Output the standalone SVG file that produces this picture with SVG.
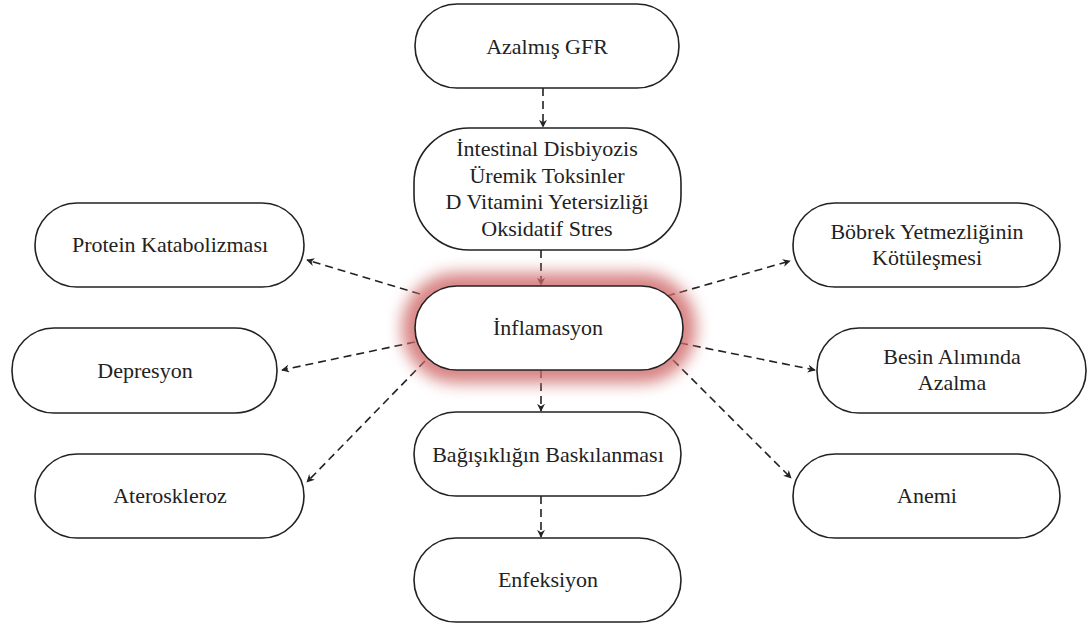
<svg xmlns="http://www.w3.org/2000/svg" width="1091" height="628" viewBox="0 0 1091 628">
<style>
.box{fill:#fff;stroke:#222;stroke-width:1.6}
.t{font-family:'Liberation Serif','Times New Roman',serif;font-size:22px;fill:#222;text-anchor:middle}
.c{fill:none;stroke:#222;stroke-width:1.6;stroke-dasharray:8 5;marker-end:url(#ah)}
</style>
<defs>
<marker id="ah" viewBox="0 0 10 10" refX="9" refY="5" markerWidth="8" markerHeight="8" markerUnits="userSpaceOnUse" orient="auto">
<path d="M0,0 L10,5 L0,10 L3,5 Z" fill="#222"/>
</marker>
<filter id="glow" x="-30%" y="-80%" width="160%" height="260%">
<feGaussianBlur stdDeviation="8"/>
</filter>
</defs>
<rect width="1091" height="628" fill="#fff"/>
<g id="connectors">
<line class="c" x1="543" y1="88" x2="543" y2="127"/>
<line class="c" x1="541" y1="250" x2="541" y2="285"/>
<line class="c" x1="541" y1="370" x2="541" y2="411"/>
<line class="c" x1="541" y1="496" x2="541" y2="537"/>
<line class="c" x1="420" y1="294" x2="307" y2="260"/>
<line class="c" x1="415" y1="342" x2="282" y2="370"/>
<line class="c" x1="425" y1="361" x2="307" y2="482"/>
<line class="c" x1="667" y1="296" x2="790" y2="261"/>
<line class="c" x1="680" y1="343" x2="815" y2="370"/>
<line class="c" x1="673" y1="360" x2="791" y2="478"/>
</g>
<g id="n-gfr"><rect class="box" x="415" y="4" width="264" height="84" rx="42"/><text class="t" x="547" y="54">Azalmış GFR</text></g>
<g id="n-causes"><rect class="box" x="414" y="128" width="267" height="122" rx="55"/>
<text class="t" x="547" y="156">İntestinal Disbiyozis</text>
<text class="t" x="547" y="183">Üremik Toksinler</text>
<text class="t" x="547" y="209">D Vitamini Yetersizliği</text>
<text class="t" x="547" y="236">Oksidatif Stres</text></g>
<g id="n-inflamasyon">
<rect x="415" y="286" width="268" height="84" rx="42" fill="none" stroke="#d06a6a" stroke-width="26" filter="url(#glow)" opacity="0.85"/>
<rect class="box" x="415" y="286" width="268" height="84" rx="42"/><text class="t" x="548" y="335">İnflamasyon</text></g>
<g id="n-bagisiklik"><rect class="box" x="414" y="412" width="267" height="84" rx="42"/><text class="t" x="548" y="462">Bağışıklığın Baskılanması</text></g>
<g id="n-enfeksiyon"><rect class="box" x="414" y="538" width="267" height="84" rx="42"/><text class="t" x="548" y="587">Enfeksiyon</text></g>
<g id="n-protein"><rect class="box" x="35" y="203" width="269" height="84" rx="42"/><text class="t" x="170" y="252">Protein Katabolizması</text></g>
<g id="n-depresyon"><rect class="box" x="12" y="328" width="265" height="85" rx="42"/><text class="t" x="145" y="378">Depresyon</text></g>
<g id="n-ateroskleroz"><rect class="box" x="35" y="454" width="269" height="84" rx="42"/><text class="t" x="170" y="503">Ateroskleroz</text></g>
<g id="n-bobrek"><rect class="box" x="793" y="203" width="267" height="84" rx="42"/><text class="t" x="927" y="239">Böbrek Yetmezliğinin</text><text class="t" x="927" y="265">Kötüleşmesi</text></g>
<g id="n-besin"><rect class="box" x="817" y="328" width="269" height="85" rx="42"/><text class="t" x="952" y="364">Besin Alımında</text><text class="t" x="952" y="390">Azalma</text></g>
<g id="n-anemi"><rect class="box" x="793" y="454" width="267" height="84" rx="42"/><text class="t" x="927" y="503">Anemi</text></g>
</svg>
